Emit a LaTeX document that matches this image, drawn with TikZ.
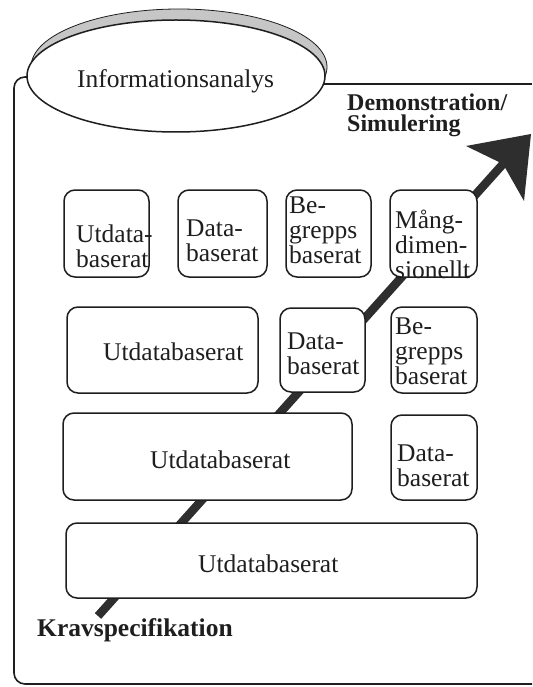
\documentclass[tikz,border=0pt]{standalone}
\usepackage{fontspec}
\setmainfont{Liberation Serif}
\usetikzlibrary{shapes.geometric}
\definecolor{ink}{HTML}{1E1E1E}
\definecolor{shaftgray}{HTML}{2E2E2E}
\begin{document}
\begin{tikzpicture}[x=1pt,y=-1pt,
  frameline/.style={draw=ink, line width=1.6pt},
  card/.style={draw=ink, line width=1.5pt, rounded corners=11pt, fill=white, inner sep=0pt},
  lbl/.style={inner sep=0pt, text=ink, font=\fontsize{25.5}{25}\selectfont},
  multi/.style={lbl, align=left, anchor=north west},
  single/.style={lbl, anchor=base west},
  boldlbl/.style={inner sep=0pt, text=ink, font=\bfseries\fontsize{24}{21}\selectfont}
]
\useasboundingbox (0,0) rectangle (532,687);
\fill[white] (0,0) rectangle (532,687);

% outer frame, open to the right
\draw[frameline, rounded corners=11pt] (40,77) -| (14,684) -- (532,684);
\draw[frameline] (300,84) -- (532,84);

% raised disc for the analysis step
\draw[ink, line width=0.8pt, fill=gray!45] (179,67) ellipse [x radius=148, y radius=58];
\node[ellipse, draw=ink, line width=1.5pt, fill=white, minimum width=298pt, minimum height=112pt, inner sep=0pt] (ia) at (176,76) {};
\node[single] (ialbl) at (77,88) {Informationsanalys};

% progress arrow from requirements to simulation
\coordinate (tail) at (98,616);
\coordinate (tip) at (531,134);
\coordinate (barbL) at (466,146);
\coordinate (barbR) at (524,201);
\coordinate (notch) at (503,164);
\draw[shaftgray, line width=8.5pt] (tail) -- (notch);
\fill[shaftgray] (tip) -- (barbL) -- (notch) -- (barbR) -- cycle;

% row 1
\node[card, minimum width=85pt, minimum height=87pt] (a) at (106.5,233.5) {};
\node[card, minimum width=89pt, minimum height=87pt] (b) at (222.5,233.5) {};
\node[card, minimum width=85pt, minimum height=87pt] (c) at (328.5,233.5) {};
\node[card, minimum width=87pt, minimum height=87pt] (d) at (433.5,233.5) {};
\node[multi] (alb) at (76,225) {Utdata-\\baserat};
\node[multi] (blb) at (186,220) {Data-\\baserat};
\node[multi] (clb) at (289,197) {Be-\\grepps\\baserat};
\node[multi] (dlb) at (395,210) {Mång-\\dimen-\\sionellt};

% row 2
\node[card, minimum width=191pt, minimum height=86pt] (r2) at (162.5,350) {};
\node[card, minimum width=85pt, minimum height=84pt] (e) at (322.5,350) {};
\node[card, minimum width=86pt, minimum height=86pt] (f) at (434,350) {};
\node[single] (r2lb) at (103,360) {Utdatabaserat};
\node[multi] (elb) at (287,333) {Data-\\baserat};
\node[multi] (flb) at (395,318) {Be-\\grepps\\baserat};

% row 3
\node[card, minimum width=289pt, minimum height=87pt] (r3) at (207.5,456.5) {};
\node[card, minimum width=86pt, minimum height=85pt] (g) at (434,457.5) {};
\node[single] (r3lb) at (150,468) {Utdatabaserat};
\node[multi] (glb) at (397,445) {Data-\\baserat};

% row 4
\node[card, minimum width=411pt, minimum height=75pt] (r4) at (271.5,560.5) {};
\node[single] (r4lb) at (198,572) {Utdatabaserat};

% end labels
\node[boldlbl, align=left, anchor=north west] (demo) at (347,94) {Demonstration/\\Simulering};
\node[boldlbl, font=\bfseries\fontsize{25.5}{25}\selectfont, anchor=base west] (krav) at (37,636) {Kravspecifikation};
\end{tikzpicture}
\end{document}
